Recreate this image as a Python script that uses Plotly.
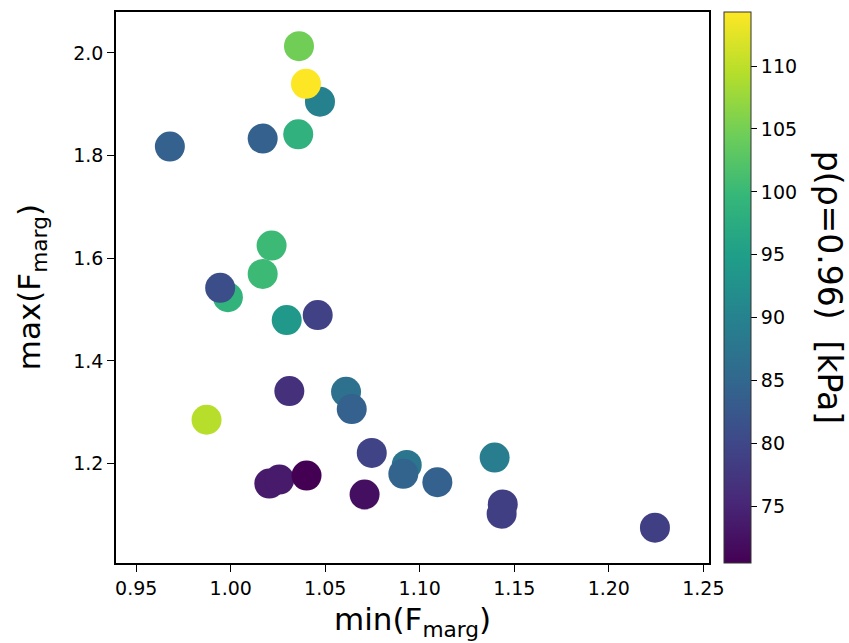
import plotly.graph_objects as go

# Data
min_F = [1.0398, 1.0472, 1.0361, 0.9678, 1.0169, 1.0357, 1.0216, 1.0169,
         0.9985, 0.9944, 1.0296, 1.0460, 1.0310, 0.9872, 1.0610, 1.0640,
         1.0746, 1.0931, 1.0913, 1.0204, 1.0257, 1.0401, 1.0708, 1.1093,
         1.1396, 1.1433, 1.1439, 1.2244]
max_F = [1.9398, 1.9049, 2.0130, 1.8175, 1.8330, 1.8414, 1.6247, 1.5695,
         1.5240, 1.5423, 1.4796, 1.4893, 1.3412, 1.2854, 1.3398, 1.3062,
         1.2208, 1.1975, 1.1800, 1.1612, 1.1690, 1.1767, 1.1398, 1.1637,
         1.2117, 1.1023, 1.1204, 1.0751]
pressure = [114.3, 89.8, 104.7, 84.0, 84.0, 98.5, 100.3, 100.3,
            99.0, 81.0, 94.0, 79.0, 76.6, 109.5, 86.7, 84.0,
            79.3, 87.6, 84.5, 73.6, 73.6, 70.5, 72.3, 84.0,
            89.3, 78.8, 78.8, 78.8]

# reorder so overlapping markers stack as in the reference
order = [2, 1, 0, 3, 4, 5, 6, 7, 8, 9, 10, 11, 12, 13, 14, 15, 16, 17, 18,
         19, 20, 21, 22, 23, 24, 25, 26, 27]
xs = [min_F[i] for i in order]
ys = [max_F[i] for i in order]
cs = [pressure[i] for i in order]

cb_ticks = [75, 80, 85, 90, 95, 100, 105, 110]
x_ticks = [0.95, 1.00, 1.05, 1.10, 1.15, 1.20, 1.25]
y_ticks = [1.2, 1.4, 1.6, 1.8, 2.0]

FONT = "DejaVu Sans"

fig = go.Figure(go.Scatter(
    x=xs, y=ys, mode="markers",
    marker=dict(
        size=30, color=cs, colorscale="Viridis",
        cmin=70.5, cmax=114.3, line=dict(width=0),
        showscale=True,
        colorbar=dict(
            x=1.0253, xanchor="left", xpad=0,
            y=0.5, yanchor="middle", len=1, lenmode="fraction", ypad=0,
            thickness=27, thicknessmode="pixels",
            outlinewidth=1, outlinecolor="#333333",
            tickmode="array", tickvals=cb_ticks,
            ticks="outside", ticklen=6, tickwidth=1.3, tickcolor="black",
            tickfont=dict(family=FONT, size=19, color="black"),
        ),
    ),
    showlegend=False,
))

axis_common = dict(
    showline=True, linecolor="black", linewidth=1.5, mirror=True,
    ticks="outside", ticklen=7, tickwidth=1.3, tickcolor="black",
    showgrid=False, zeroline=False,
    tickfont=dict(family=FONT, size=19, color="black"),
)

fig.update_xaxes(range=[0.9393, 1.253], tickmode="array", tickvals=x_ticks,
                 ticktext=[f"{v:.2f}" for v in x_ticks], **axis_common)
fig.update_yaxes(range=[1.0064, 2.0796], tickmode="array", tickvals=y_ticks,
                 ticktext=[f"{v:.1f}" for v in y_ticks], **axis_common)

fig.update_layout(
    width=849, height=643,
    margin=dict(l=116, r=140, t=10, b=80),
    plot_bgcolor="white", paper_bgcolor="white",
    font=dict(family=FONT, color="black"),
    annotations=[
        dict(text="min(F<sub>marg</sub>)", xref="paper", yref="paper",
             x=0.5, y=-0.107, xanchor="center", yanchor="middle",
             showarrow=False, font=dict(family=FONT, size=31, color="black")),
        dict(text="max(F<sub>marg</sub>)", xref="paper", yref="paper",
             x=-0.142, y=0.5, xanchor="center", yanchor="middle",
             textangle=-90,
             showarrow=False, font=dict(family=FONT, size=31, color="black")),
        dict(text="p(ρ=0.96)  [kPa]", xref="paper", yref="paper",
             x=1.2035, y=0.5, xanchor="center", yanchor="middle",
             textangle=90,
             showarrow=False, font=dict(family=FONT, size=33, color="black")),
    ],
)

fig.write_html("out.html")
